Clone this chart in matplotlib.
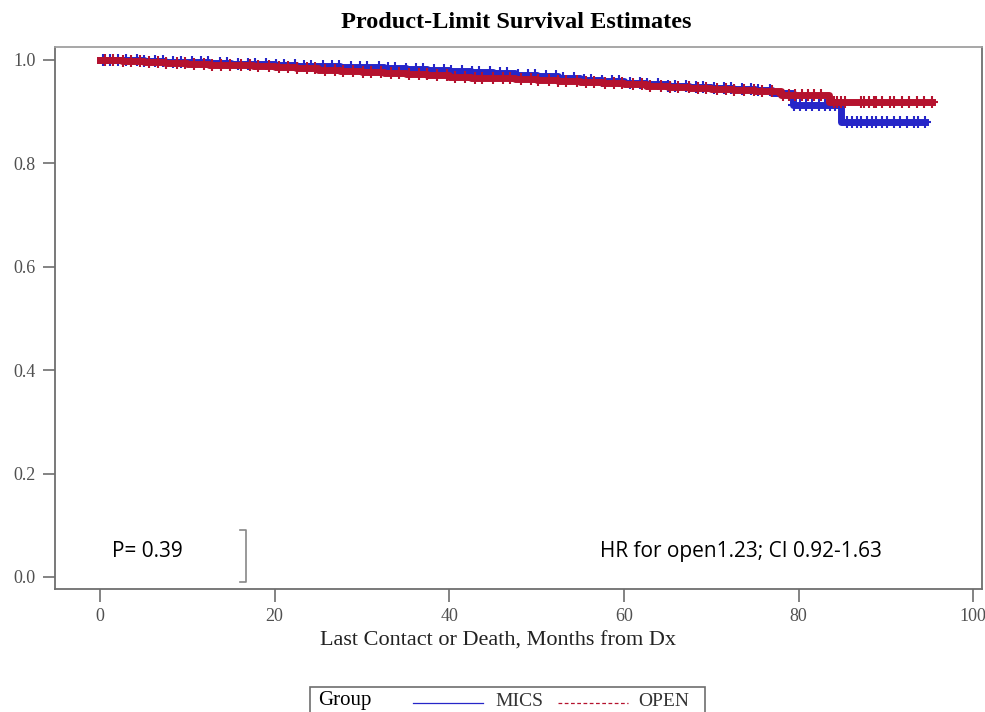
"""
Kaplan-Meier (product-limit) curves, MICS vs OPEN, redrawn from a SAS output figure.
"""

import matplotlib.pyplot as plt
from matplotlib.lines import Line2D
from matplotlib.patches import Rectangle

# step points: (months, survival)
mics_t = [0, 2.5, 5, 7.5, 10, 12.5, 15, 17.5, 20, 22.5, 25, 27.5, 30, 32.5, 35, 37.5,
          40, 42.5, 45, 47.5, 50, 52.5, 55, 57.5, 60, 62.5, 65, 67.5, 70, 72.5, 75,
          77, 79.3, 84.8, 94.5]
mics_s = [1.0, 0.999, 0.998, 0.997, 0.996, 0.995, 0.993, 0.992, 0.990, 0.989, 0.988,
          0.987, 0.986, 0.984, 0.983, 0.981, 0.978, 0.976, 0.974, 0.971, 0.969, 0.966,
          0.962, 0.959, 0.956, 0.953, 0.950, 0.947, 0.945, 0.943, 0.942, 0.937, 0.913,
          0.880, 0.880]
open_t = [0, 2.5, 5, 7.5, 10, 12.5, 15, 17.5, 20, 22.5, 25, 27.5, 30, 32.5, 35, 37.5,
          40, 42.5, 45, 47.5, 50, 52.5, 55, 57.5, 60, 62.5, 65, 67.5, 70, 72.5, 75,
          78, 83.5, 95.3]
open_s = [1.0, 0.998, 0.996, 0.994, 0.993, 0.991, 0.990, 0.988, 0.986, 0.984, 0.981,
          0.979, 0.976, 0.974, 0.972, 0.970, 0.968, 0.966, 0.965, 0.963, 0.962, 0.960,
          0.958, 0.955, 0.953, 0.950, 0.948, 0.946, 0.944, 0.942, 0.940, 0.932, 0.919,
          0.919]

# censored observations (months)
mics_cens = [0.3, 1.2, 2.1, 3.0, 4.2, 5.1, 6.3, 7.2, 8.4, 9.3, 10.5, 11.6, 12.4, 13.7,
             14.6, 15.8, 16.9, 17.7, 19.0, 20.2, 21.1, 22.3, 23.4, 24.2, 25.5, 26.6,
             27.4, 28.7, 29.8, 30.6, 31.9, 33.0, 33.8, 35.1, 36.2, 37.0, 38.3, 39.4,
             40.2, 41.5, 42.6, 43.4, 44.7, 45.8, 46.6, 47.9, 49.0, 49.8, 51.1, 52.2,
             53.0, 54.3, 55.4, 56.2, 57.5, 58.6, 59.4, 60.7, 61.8, 62.6, 63.9, 65.0,
             65.8, 67.1, 68.2, 69.0, 70.3, 71.4, 72.2, 73.5, 74.6, 75.4, 76.7,
             79.5, 80.2, 80.8, 81.5, 82.3, 83.0, 83.6, 84.2,
             85.5, 86.1, 86.7, 87.1, 87.8, 88.4, 88.9, 89.5, 90.1, 90.9, 91.6, 92.4,
             93.2, 93.7, 94.5]
open_cens = [0.6, 1.5, 2.6, 3.5, 4.6, 5.6, 6.7, 7.6, 8.8, 9.7, 10.8, 11.9, 12.8, 13.9,
             14.9, 16.1, 17.2, 18.1, 19.3, 20.5, 21.5, 22.6, 23.7, 24.6, 25.8, 26.9,
             27.8, 29.0, 30.1, 31.0, 32.2, 33.3, 34.2, 35.4, 36.5, 37.4, 38.6, 39.7,
             40.6, 41.8, 42.9, 43.8, 45.0, 46.1, 47.0, 48.2, 49.3, 50.2, 51.4, 52.5,
             53.4, 54.6, 55.7, 56.6, 57.8, 58.9, 59.8, 61.0, 62.1, 63.0, 64.2, 65.3,
             66.2, 67.4, 68.5, 69.4, 70.6, 71.7, 72.6, 73.8, 74.9, 75.8, 76.9,
             78.2, 78.9, 79.6, 80.4, 81.1, 81.8, 82.6,
             84.0, 84.4, 84.8, 85.3, 87.1, 87.5, 88.0, 88.6, 88.9, 89.6, 90.5, 90.9,
             91.8, 92.6, 93.5, 94.3, 95.3]

x_ticks = [0, 20, 40, 60, 80, 100]
y_ticks = [0.0, 0.2, 0.4, 0.6, 0.8, 1.0]

p_text = "P= 0.39"
hr_text = "HR for open1.23; CI 0.92-1.63"

BLUE = "#2626c8"
RED = "#b5122e"
FRAME = "#6e6e6e"
SERIF = ["Liberation Serif", "DejaVu Serif"]
SANS = ["Open Sans", "DejaVu Sans"]


def surv_at(times, surv, t):
    val = surv[0]
    for ti, si in zip(times, surv):
        if ti <= t:
            val = si
    return val


fig = plt.figure(figsize=(9.85, 7.12), dpi=100)
ax = fig.add_axes([0.0558, 0.1728, 0.9412, 0.7612])

for times, surv, cens, color in [(mics_t, mics_s, mics_cens, BLUE),
                                 (open_t, open_s, open_cens, RED)]:
    ax.plot(times, surv, drawstyle="steps-post", color=color, lw=5)
    cy = [surv_at(times, surv, c) for c in cens]
    ax.plot(cens, cy, ls="none", marker="+", ms=9, mew=1.5, color=color)

ax.set_xlim(-5.15, 101.0)
ax.set_ylim(-0.0232, 1.0251)
ax.set_xticks(x_ticks)
ax.set_yticks(y_ticks)
ax.set_yticklabels([f"{v:.1f}" for v in y_ticks])
ax.tick_params(direction="out", length=9, width=1.2, color=FRAME,
               labelcolor="#505050", labelsize=13, pad=5)
for lab in ax.get_xticklabels() + ax.get_yticklabels():
    lab.set_family(SERIF)
for sp in ax.spines.values():
    sp.set_color(FRAME)
    sp.set_linewidth(1.3)
ax.spines["top"].set_color("#a0a0a0")

ax.set_xlabel("Last Contact or Death, Months from Dx", family=SERIF,
              fontsize=16, color="#222222")
ax.xaxis.set_label_coords(0.478, -0.078)
fig.text(0.524, 0.969, "Product-Limit Survival Estimates", family=SERIF,
         fontsize=17.5, fontweight="bold", ha="center", va="center")

# annotations
ax.text(1.4, 0.05, p_text, family=SANS, fontsize=15, va="center", ha="left")
ax.text(57.3, 0.05, hr_text, family=SANS, fontsize=15, va="center", ha="left")
ax.plot([16.0, 16.7, 16.7, 16.0], [0.091, 0.091, -0.0097, -0.0097],
        color="#888888", lw=1.2)

# group legend (box runs off the bottom edge as in the source)
fig.patches.append(Rectangle((310 / 985, -0.02), 395 / 985, 0.02 + 25 / 712,
                             transform=fig.transFigure, fill=False,
                             ec=FRAME, lw=1.2))
base = 2 / 712
ly = 1 - 703 / 712
fig.text(318 / 985, base, "Group", family=SERIF, fontsize=15, va="bottom")
fig.lines.append(Line2D([413 / 985, 483 / 985], [ly, ly], transform=fig.transFigure,
                        color=BLUE, lw=0.9))
fig.text(495 / 985, base, "MICS", family=SERIF, fontsize=14, va="bottom",
         color="#333333")
fig.lines.append(Line2D([558 / 985, 628 / 985], [ly, ly], transform=fig.transFigure,
                        color=RED, lw=0.9, ls=(0, (3, 2))))
fig.text(638 / 985, base, "OPEN", family=SERIF, fontsize=14, va="bottom",
         color="#333333")

fig.savefig("out.png", dpi=100)
